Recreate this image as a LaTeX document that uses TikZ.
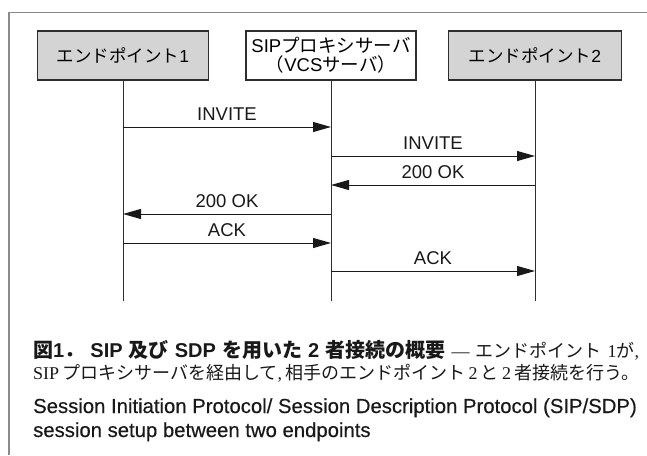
\documentclass[tikz,border=0pt]{standalone}
\usepackage{fontspec}
\setmainfont{Liberation Sans}
\newfontfamily\jp{Noto Sans CJK JP}
\newfontfamily\rmlat{Liberation Serif}
\newfontfamily\capfont{Liberation Sans}[FakeBold=0.4]
\usetikzlibrary{arrows.meta}
\definecolor{framegray}{HTML}{8A8A8A}
\definecolor{boxgray}{HTML}{D4D4D4}
\definecolor{linedark}{HTML}{2E2E2E}
\newcommand\jsp{\hskip 1pt plus 1fil\relax}
\newcommand\bigb{\fontsize{20}{22}\selectfont\bfseries}
\begin{document}
\begin{tikzpicture}[x=1pt,y=-1pt,
  party/.style={draw=linedark, line width=1.2pt, minimum width=171pt, minimum height=49pt,
    inner sep=0pt, font=\fontsize{17.5}{20}\selectfont, align=center},
  lifeline/.style={draw=linedark, line width=1pt},
  msg/.style={draw=black!90, line width=1pt, -{Triangle[length=18pt,width=10pt]}},
  lbl/.style={above=6pt, inner sep=0pt, font=\fontsize{18.5}{20}\selectfont, text=black!90},
  captxt/.style={anchor=base west, inner sep=0pt, text=black!90},
]
\useasboundingbox (0,0) rectangle (647,455);
% frame
\draw[framegray, line width=1.5pt] (9,455) -- (9,12.7) -- (647,12.7);
% parties
\node[party, fill=boxgray] (ep1) at (123,55.5) {{\jp エンドポイント}1};
\node[party, fill=white, minimum width=170pt, font=\fontsize{18.5}{20}\selectfont] (px) at (331,55.5)
  {SIP{\jp プロキシサーバ}\\[-1pt]{\jp （}VCS{\jp サーバ）}};
\node[party, fill=boxgray, minimum width=173pt] (ep2) at (535,55.5) {{\jp エンドポイント}2};
% lifeline ends
\coordinate (e1) at (123,301);
\coordinate (e2) at (331,301);
\coordinate (e3) at (535,301);
\draw[lifeline] (ep1.south) -- (e1);
\draw[lifeline] (px.south) -- (e2);
\draw[lifeline] (ep2.south) -- (e3);
% message anchors
\coordinate (a1) at (123,127); \coordinate (a2) at (331,127);
\coordinate (b2) at (331,156); \coordinate (b3) at (535,156);
\coordinate (c2) at (331,185); \coordinate (c3) at (535,185);
\coordinate (d1) at (123,214); \coordinate (d2) at (331,214);
\coordinate (f1) at (123,243); \coordinate (f2) at (331,243);
\coordinate (g2) at (331,271); \coordinate (g3) at (535,271);
\draw[msg] (a1) -- node[lbl] {INVITE} (a2);
\draw[msg] (b2) -- node[lbl] {INVITE} (b3);
\draw[msg] (c3) -- node[lbl] {200 OK} (c2);
\draw[msg] (d2) -- node[lbl] {200 OK} (d1);
\draw[msg] (f1) -- node[lbl] {ACK} (f2);
\draw[msg] (g2) -- node[lbl] {ACK} (g3);
% caption
\node[captxt] (cap1) at (33,357) {\fontsize{18}{20}\selectfont
  \hbox to 606pt{{\bigb\jp 図}{\bigb 1}{\bigb\jp ．}\jsp{\bigb SIP}\jsp{\bigb\jp 及び}\jsp{\bigb SDP}\jsp{\bigb\jp を用いた}\jsp{\bigb 2}\jsp{\bigb\jp 者接続の概要}\jsp{\rmlat —}\jsp{\jp エンドポイント}\jsp{\rmlat 1}{\jp が}{\rmlat ,}}};
\node[captxt] (cap2) at (33,379) {\fontsize{18}{20}\selectfont
  \hbox to 606pt{{\rmlat SIP}\jsp{\jp プロキシサーバを経由して}{\rmlat ,}\jsp{\jp 相手のエンドポイント}\jsp{\rmlat 2}\jsp{\jp と}\jsp{\rmlat 2}\jsp{\jp 者接続を行う。}}};
\node[captxt, font=\fontsize{20.3}{24}\capfont] (cap3) at (33,413)
  {Session Initiation Protocol/ Session Description Protocol (SIP/SDP)};
\node[captxt, font=\fontsize{20.3}{24}\capfont] (cap4) at (33,437)
  {session setup between two endpoints};
\end{tikzpicture}
\end{document}
